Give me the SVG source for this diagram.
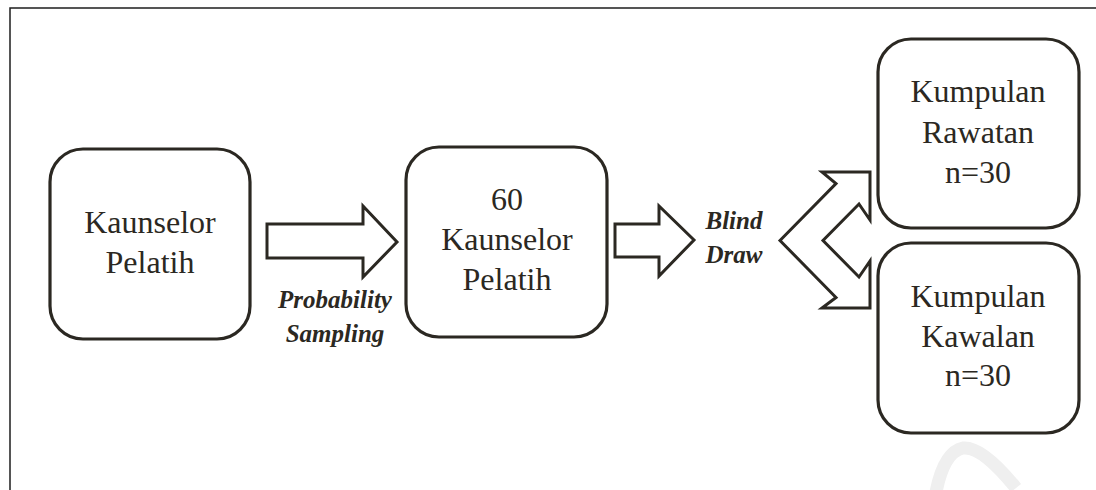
<svg xmlns="http://www.w3.org/2000/svg" width="1096" height="490" viewBox="0 0 1096 490">
<style>
.box{fill:#fff;stroke:#2b2822;stroke-width:3.2}
.arr{fill:#fff;stroke:#2b2822;stroke-width:3;stroke-linejoin:miter}
.t{font-family:'Liberation Serif',Tinos,'DejaVu Serif',serif;font-size:32px;fill:#2b2822;text-anchor:middle}
.l{font-family:'Liberation Serif',Tinos,'DejaVu Serif',serif;font-size:25px;font-weight:bold;font-style:italic;fill:#2b2822;text-anchor:middle}
</style>
<rect width="1096" height="490" fill="#fff"/>
<path d="M936 492 Q944 452 963 448 Q982 446 1016 488" fill="none" stroke="#efefef" stroke-width="13"/>
<path d="M10 490 V8 H1096" fill="none" stroke="#1e1e1e" stroke-width="1.5"/>
<g id="node-kaunselor">
<rect class="box" x="50" y="149" width="200" height="190" rx="33"/>
<text class="t" x="150" y="233" font-family="Liberation Serif">Kaunselor</text>
<text class="t" x="150" y="273" font-family="Liberation Serif">Pelatih</text>
</g>
<g id="node-60">
<rect class="box" x="406" y="147" width="201" height="190" rx="33"/>
<text class="t" x="507" y="210">60</text>
<text class="t" x="507" y="250">Kaunselor</text>
<text class="t" x="507" y="290">Pelatih</text>
</g>
<g id="node-rawatan">
<rect class="box" x="878" y="39" width="201" height="189" rx="33"/>
<text class="t" x="978" y="102">Kumpulan</text>
<text class="t" x="978" y="143">Rawatan</text>
<text class="t" x="978" y="183">n=30</text>
</g>
<g id="node-kawalan">
<rect class="box" x="878" y="243" width="201" height="190" rx="33"/>
<text class="t" x="978" y="307">Kumpulan</text>
<text class="t" x="978" y="347">Kawalan</text>
<text class="t" x="978" y="386">n=30</text>
</g>
<g id="connectors">
<polygon class="arr" points="267,224 363,224 363,206 397,242 363,277 363,258 267,258"/>
<text class="l" x="335" y="308">Probability</text>
<text class="l" x="335" y="342">Sampling</text>
<polygon class="arr" points="615,224 659,224 659,206 694,240 659,276 659,257 615,257"/>
<text class="l" x="734" y="229">Blind</text>
<text class="l" x="734" y="263">Draw</text>
<polygon class="arr" points="780,240.5 836,183.5 822,172 870,172 870,220 859,204 823,240.5 859,277 870,261 870,308 822,308 836,297.5"/>
</g>
</svg>
